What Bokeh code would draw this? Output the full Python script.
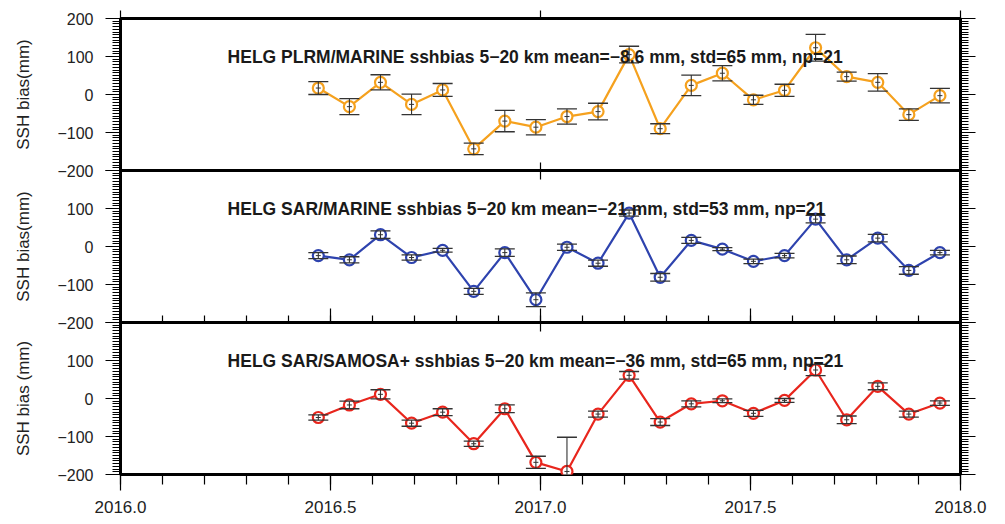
import numpy as np
from bokeh.plotting import figure
from bokeh.layouts import column
from bokeh.models import (Range1d, LinearAxis, SingleIntervalTicker, FixedTicker,
                          PrintfTickFormatter, ColumnDataSource, CustomLabelingPolicy)
from bokeh.core.properties import value
from bokeh.embed import file_html
from bokeh.resources import INLINE

# ---------------- data ----------------
dates = [2016.471, 2016.545, 2016.619, 2016.693, 2016.767, 2016.841, 2016.915,
         2016.989, 2017.063, 2017.137, 2017.211, 2017.285, 2017.359, 2017.433,
         2017.507, 2017.581, 2017.655, 2017.729, 2017.803, 2017.877, 2017.951]

plrm_marine = [17, -32, 32, -26, 12, -143, -70, -86, -58, -45, 105, -90, 24, 56,
               -14, 11, 123, 47, 32, -53, -3]
plrm_marine_err = [17, 21, 20, 27, 17, 15, 28, 20, 20, 22, 22, 13, 27, 20,
                   12, 16, 35, 12, 23, 15, 19]

sar_marine = [-24, -35, 31, -29, -10, -118, -16, -140, -2, -44, 88, -81, 16, -7,
              -39, -24, 72, -35, 22, -63, -16]
sar_marine_err = [8, 8, 10, 7, 5, 8, 10, 18, 8, 8, 8, 10, 8, 4,
                  6, 6, 10, 10, 10, 10, 6]

sar_samosa = [-50, -17, 11, -65, -36, -119, -27, -168, -192, -41, 61, -62, -14, -6,
              -39, -5, 75, -56, 32, -41, -12]
sar_samosa_err = [7, 10, 12, 8, 9, 7, 10, 16, 90, 8, 10, 9, 8, 5,
                  8, 5, 15, 10, 9, 8, 6]

titles = ["HELG PLRM/MARINE sshbias 5\u221220 km mean=\u22128.6 mm, std=65 mm, np=21",
          "HELG SAR/MARINE sshbias 5\u221220 km mean=\u221221 mm, std=53 mm, np=21",
          "HELG SAR/SAMOSA+ sshbias 5\u221220 km mean=\u221236 mm, std=65 mm, np=21"]
ylabels = ["SSH bias(mm)", "SSH bias(mm)", "SSH bias (mm)"]
series_colors = ["#F5A11E", "#2E43AE", "#E8261D"]

y_ticks = [-200, -100, 0, 100, 200]
y_tick_labels = ["\u2212200", "\u2212100", "0", "100", "200"]
x_ticks = [2016.0, 2016.5, 2017.0, 2017.5, 2018.0]
x_tick_labels = ["2016.0", "2016.5", "2017.0", "2017.5", "2018.0"]

FONT = "Liberation Sans"
OVERLAP = 9


def hide_all():
    return CustomLabelingPolicy(code="""
        for (let i = 0; i < indices.size; i++) { indices.unset(i) }
        return indices
    """)


def hide_last():
    return CustomLabelingPolicy(code="""
        indices.unset(indices.size - 1)
        return indices
    """)


def tick_only(axis):
    axis.axis_line_color = None
    axis.major_label_text_font_size = "0px"
    axis.major_label_standoff = 0
    axis.major_label_policy = hide_all()


def make_panel(k, vals, errs, color):
    first = k == 0
    last = k == 2
    p = figure(frame_width=840, frame_height=152,
               x_range=Range1d(2016.0, 2018.0), y_range=Range1d(-200, 200),
               output_backend="svg", toolbar_location=None,
               min_border_left=120, min_border_right=45,
               min_border_top=18 if first else 0,
               min_border_bottom=50 if last else OVERLAP,
               x_axis_type=None, y_axis_type=None,
               margin=(0, 0, 0, 0) if first else (-OVERLAP, 0, 0, 0))
    p.outline_line_color = "black"
    p.outline_line_width = 3
    p.outline_line_alpha = 1
    p.background_fill_color = "white"
    p.border_fill_color = "white"
    p.border_fill_alpha = 1.0 if first else 0.0

    # left axis
    yl = LinearAxis(ticker=SingleIntervalTicker(interval=100, num_minor_ticks=14))
    yl.major_label_overrides = {t: l for t, l in zip(y_ticks, y_tick_labels)}
    if not first:
        yl.major_label_policy = hide_last()
    yl.axis_line_color = None
    yl.major_tick_out = 15
    yl.major_tick_in = 0
    yl.minor_tick_out = 8
    yl.minor_tick_in = 0
    yl.major_tick_line_color = "black"
    yl.minor_tick_line_color = "black"
    yl.major_tick_line_width = 1.2
    yl.minor_tick_line_width = 1
    yl.major_label_text_font = FONT
    yl.major_label_text_font_size = "16px"
    yl.major_label_text_color = "#222222"
    yl.major_label_standoff = 12
    yl.axis_label = ylabels[k]
    yl.axis_label_text_font = FONT
    yl.axis_label_text_font_size = "17px"
    yl.axis_label_text_font_style = "normal"
    yl.axis_label_text_color = "#222222"
    yl.axis_label_standoff = 21
    p.add_layout(yl, "left")

    # right axis (ticks only)
    yr = LinearAxis(ticker=SingleIntervalTicker(interval=100, num_minor_ticks=14))
    tick_only(yr)
    yr.major_tick_out = 15
    yr.major_tick_in = 0
    yr.minor_tick_out = 8
    yr.minor_tick_in = 0
    yr.major_tick_line_color = "black"
    yr.minor_tick_line_color = "black"
    p.add_layout(yr, "right")

    # top x ticks
    xt = LinearAxis(ticker=FixedTicker(ticks=[2016.0, 2017.0, 2018.0], minor_ticks=[]))
    tick_only(xt)
    xt.major_tick_line_color = "black"
    xt.major_tick_line_width = 1.2
    if first:
        xt.major_tick_out = 8
        xt.major_tick_in = 0
    else:
        xt.major_tick_out = 0
        xt.major_tick_in = 9
    p.add_layout(xt, "above")

    # bottom x ticks
    xb = LinearAxis(ticker=SingleIntervalTicker(interval=0.5, num_minor_ticks=5))
    xb.axis_line_color = None
    xb.major_tick_line_color = "black"
    xb.minor_tick_line_color = "black"
    xb.major_tick_line_width = 1.2
    xb.minor_tick_line_width = 1.2
    if last:
        xb.formatter = PrintfTickFormatter(format="%.1f")
        xb.major_label_overrides = {t: l for t, l in zip(x_ticks, x_tick_labels)}
        xb.major_tick_out = 16
        xb.major_tick_in = 0
        xb.minor_tick_out = 10
        xb.minor_tick_in = 0
        xb.major_label_text_font = FONT
        xb.major_label_text_font_size = "17px"
        xb.major_label_text_color = "#222222"
        xb.major_label_standoff = 10
    elif k == 1:
        tick_only(xb)
        xb.major_tick_out = 0
        xb.major_tick_in = 14
        xb.minor_tick_out = 0
        xb.minor_tick_in = 7
    else:
        xb.ticker = FixedTicker(ticks=[2016.0, 2017.0, 2018.0], minor_ticks=[])
        tick_only(xb)
        xb.major_tick_out = 0
        xb.major_tick_in = 8
    p.add_layout(xb, "below")

    # grid
    p.ygrid.ticker = FixedTicker(ticks=[-100, 0, 100])
    p.ygrid.grid_line_color = "#444444"
    p.ygrid.grid_line_width = 1
    p.xgrid.visible = False

    v = np.array(vals, dtype=float)
    e = np.array(errs, dtype=float)
    src = ColumnDataSource(dict(x=dates, y=v, lo=v - e, hi=v + e))

    p.line("x", "y", source=src, line_color=color, line_width=2.2)
    p.scatter("x", "y", source=src, marker="circle", size=11, line_color=color,
              line_width=2.2, fill_color="white")
    p.segment(x0="x", y0="lo", x1="x", y1="hi", source=src,
              line_color="#333333", line_width=1.1)
    p.scatter("x", "lo", source=src, marker="dash", size=20,
              line_color="#333333", line_width=1.3)
    p.scatter("x", "hi", source=src, marker="dash", size=20,
              line_color="#333333", line_width=1.3)
    p.scatter("x", "y", source=src, marker="dash", size=5,
              line_color="#333333", line_width=1)

    p.text(x=[2016.255], y=[100], text=[titles[k]], text_font=value(FONT),
           text_font_style="bold", text_font_size="17.5px",
           text_baseline="alphabetic", text_align="left", text_color="#1a1a1a")
    return p


p1 = make_panel(0, plrm_marine, plrm_marine_err, series_colors[0])
p2 = make_panel(1, sar_marine, sar_marine_err, series_colors[1])
p3 = make_panel(2, sar_samosa, sar_samosa_err, series_colors[2])

layout = column(p1, p2, p3, spacing=0)
open("out.html", "w").write(file_html(layout, INLINE))
